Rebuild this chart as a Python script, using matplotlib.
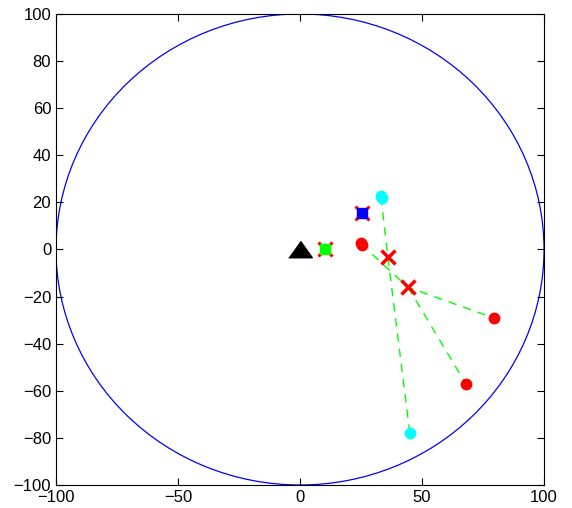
import numpy as np
import matplotlib
matplotlib.use("Agg")
import matplotlib.pyplot as plt
from matplotlib.patches import Circle

plt.rcParams["font.family"] = ["Liberation Sans", "DejaVu Sans"]

# region and reference point
radius = 100.0
origin = (0.0, 0.0)

# dashed green links (x, y pairs per path)
path_a_x = [33.2, 36.0, 45.0]
path_a_y = [22.3, -3.2, -77.9]
path_b_x = [25.0, 44.2, 79.5]
path_b_y = [2.3, -16.0, -29.1]
path_c_x = [44.2, 68.0]
path_c_y = [-16.0, -57.1]

# markers
red_cross_x = [36.0, 44.2]
red_cross_y = [-3.2, -16.0]
red_dot_x = [25.0, 25.4, 79.5, 68.0]
red_dot_y = [2.6, 1.9, -29.1, -57.1]
cyan_x = [33.0, 33.4, 45.0]
cyan_y = [22.8, 21.9, -77.9]
blue_sq = (25.6, 15.5)
green_sq = (10.2, 0.3)

fig = plt.figure(figsize=(5.72, 5.08), dpi=100)
ax = fig.add_axes([0.0979, 0.0453, 0.8532, 0.9272])

ax.add_patch(Circle(origin, radius, fill=False, color="#0000ff", lw=0.9))

dash = dict(color="#00ff00", ls=(0, (6, 5)), lw=1.0)
ax.plot(path_a_x, path_a_y, **dash)
ax.plot(path_b_x, path_b_y, **dash)
ax.plot(path_c_x, path_c_y, **dash)

tri = [(-1, -0.7), (1, -0.7), (0, 0.7)]
ax.plot(*origin, marker=tri, ms=17, color="black", ls="none")

# red crosses under the squares
ax.plot([blue_sq[0], green_sq[0]], [blue_sq[1], green_sq[1]], "x",
        color="red", ms=10, mew=2.2)
ax.plot(*blue_sq, "s", color="#0000ff", ms=7)
ax.plot(*green_sq, "s", color="#00ff00", ms=7)

ax.plot(red_dot_x, red_dot_y, "o", color="red", ms=7.5, mec="red")
ax.plot(cyan_x, cyan_y, "o", color="cyan", ms=7.5, mec="cyan")
ax.plot(red_cross_x, red_cross_y, "x", color="red", ms=10, mew=2.5)

ax.set_xlim(-100, 100)
ax.set_ylim(-100, 100)
ax.set_xticks(np.arange(-100, 101, 50))
ax.set_yticks(np.arange(-100, 101, 20))
ax.tick_params(direction="in", top=True, right=True, labelsize=12, length=5)

fig.savefig("out.png", dpi=100)
